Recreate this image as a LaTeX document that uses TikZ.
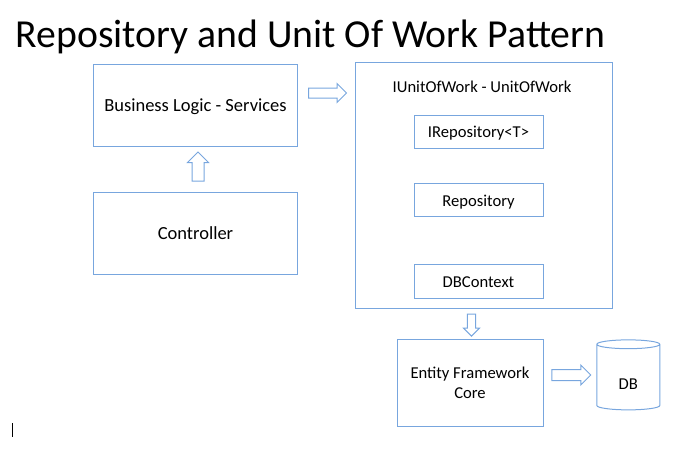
\documentclass[tikz,border=0pt]{standalone}
\usepackage{fontspec}
\setmainfont{Carlito}
\usepackage{xcolor}
\usepackage{tikz}
\tikzset{rounded corners=0}
\usetikzlibrary{shapes.geometric,shapes.arrows}
\definecolor{boxblue}{RGB}{120,166,222}
\newcommand{\boxfont}{\fontsize{18.5}{22}\selectfont}
\newcommand{\smallboxfont}{\fontsize{16.6}{20}\selectfont}

\begin{document}
\begin{tikzpicture}[x=1pt,y=-1pt,
	box/.style 2 args={draw=boxblue,line width=1pt,minimum width=#1,minimum height=#2,
		inner sep=0pt,text height=16pt,text depth=4pt,align=center},
	blkarrow/.style 2 args={single arrow,draw=boxblue,line width=1pt,inner xsep=0pt,
		inner ysep=#2,single arrow head extend=4.5pt,minimum height=#1}]
	\useasboundingbox (0,0) rectangle (687,456);
	\node[anchor=base west,inner sep=0pt,font=\fontsize{39.7}{47}\selectfont] (title) at (15.5,47.3) {Repository and Unit Of Work Pattern};
	% left column
	\node[box={204pt}{82pt},font=\boxfont] (biz) at (195.5,105) {Business Logic - Services};
	\node[box={204pt}{82pt},font=\boxfont] (ctrl) at (195.5,233) {Controller};
	% unit of work
	\node[box={257pt}{246pt}] (uow) at (484,185) {};
	\node[anchor=base,font=\smallboxfont] (uowlbl) at (482,92.3) {IUnitOfWork - UnitOfWork};
	\node[box={129pt}{33pt},font=\smallboxfont] (irepo) at (478.5,131.5) {IRepository<T>};
	\node[box={129pt}{33pt},font=\smallboxfont] (repo) at (478.5,200) {Repository};
	\node[box={129pt}{34pt},font=\smallboxfont] (dbctx) at (478.5,281) {DBContext};
	% data access
	\node[box={146pt}{87pt},text height={},text depth={},font=\smallboxfont] (ef) at (470,382.5) {Entity Framework\\Core};
	\node[cylinder,shape border rotate=90,draw=boxblue,line width=1pt,aspect=0.34,
		minimum width=63pt,minimum height=70pt,text height=26pt,text depth=4pt,
		font=\smallboxfont] (db) at (628.3,378.3) {DB};
	% block arrows
	\node[blkarrow={38pt}{4.5pt}] (bizuow) at (325,93) {};
	\node[blkarrow={29pt}{5.5pt},rotate=90] (ctrlbiz) at (198,169.5) {};
	\node[blkarrow={22pt}{3.7pt},single arrow head extend=3.8pt,rotate=-90] (uowef) at (471.5,323) {};
	\node[blkarrow={39pt}{5pt}] (efdb) at (568.5,375) {};
	\draw[line width=1pt] (12,423)--(12,437);
\end{tikzpicture}
\end{document}
